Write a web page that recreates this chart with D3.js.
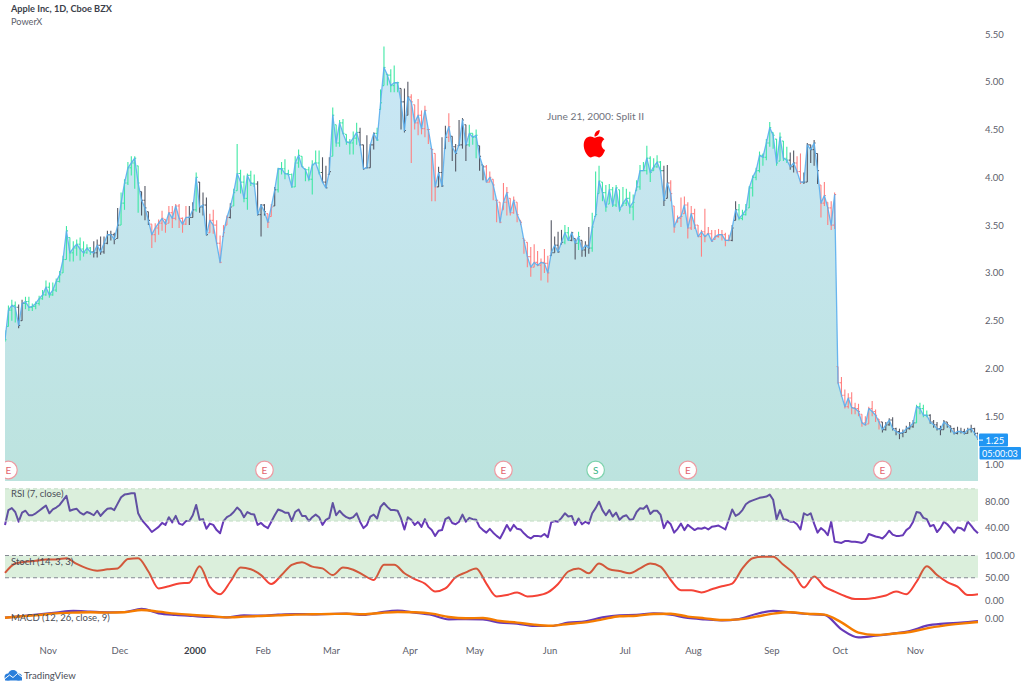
<!DOCTYPE html>
<html>
<head>
<meta charset="utf-8">
<script src="https://d3js.org/d3.v7.min.js"></script>
<style>
  html, body { margin: 0; padding: 0; background: #fff; }
  svg { display: block; }
  text { font-family: Lato, sans-serif; }
  .axis text { fill: #5d606b; font-size: 9.5px; font-family: Lato, sans-serif; }
  .axis path, .axis line { display: none; }
  .paneLabel { fill: #4a4d57; font-size: 9.5px; }
</style>
</head>
<body>
<svg id="chart" width="1024" height="687"></svg>
<script>
// daily bars, Oct 1999 - Nov 2000
var closes = [
  2.30,2.61,2.66,2.64,2.45,2.68,2.70,2.64,2.65,2.68,
  2.73,2.77,2.85,2.77,2.82,2.91,2.98,3.14,3.44,3.21,
  3.26,3.30,3.25,3.21,3.26,3.22,3.21,3.29,3.22,3.31,
  3.40,3.40,3.35,3.50,3.73,3.94,4.10,4.15,4.20,3.94,
  3.76,3.68,3.55,3.40,3.47,3.52,3.57,3.51,3.63,3.57,
  3.70,3.57,3.51,3.58,3.58,3.66,4.00,3.69,3.71,3.40,
  3.55,3.50,3.31,3.11,3.42,3.58,3.69,3.84,4.04,3.95,
  3.78,4.02,3.94,3.93,3.61,3.71,3.64,3.53,3.69,3.87,
  4.09,4.09,4.04,4.03,3.90,4.15,4.23,4.11,4.08,3.98,
  4.13,4.15,4.05,3.95,3.89,4.06,4.65,4.36,4.57,4.46,
  4.37,4.36,4.41,4.47,4.34,4.09,4.10,4.34,4.46,4.39,
  4.78,5.15,5.07,4.96,4.99,4.99,4.79,4.49,4.84,4.79,
  4.57,4.65,4.51,4.70,4.50,4.29,3.90,4.05,3.91,4.42,
  4.53,4.32,4.25,4.34,4.60,4.34,4.46,4.42,4.44,4.22,
  4.11,3.95,4.00,3.92,3.76,3.53,3.74,3.84,3.63,3.76,
  3.61,3.53,3.34,3.17,3.06,3.11,3.08,3.11,3.10,3.00,
  3.21,3.29,3.22,3.32,3.42,3.34,3.42,3.31,3.38,3.24,
  3.29,3.26,3.48,3.61,3.96,3.84,3.69,3.87,3.71,3.89,
  3.66,3.73,3.78,3.69,3.74,3.90,4.07,4.07,4.20,4.05,
  4.11,4.16,4.07,3.76,3.94,3.83,3.48,3.57,3.59,3.71,
  3.47,3.62,3.50,3.38,3.43,3.38,3.41,3.33,3.38,3.40,
  3.40,3.34,3.34,3.47,3.66,3.57,3.61,3.66,3.89,4.00,
  4.07,4.23,4.21,4.36,4.52,4.44,4.15,4.42,4.20,4.18,
  4.11,4.15,4.06,3.95,3.95,4.34,4.29,4.36,4.07,3.73,
  3.81,3.68,3.50,3.82,1.85,1.72,1.60,1.69,1.59,1.58,
  1.55,1.43,1.41,1.58,1.55,1.51,1.44,1.36,1.41,1.46,
  1.37,1.34,1.32,1.33,1.37,1.39,1.43,1.60,1.58,1.51,
  1.51,1.44,1.41,1.37,1.36,1.44,1.41,1.37,1.32,1.34,
  1.34,1.32,1.36,1.37,1.32,1.26
];
var highs = [
  2.40,2.66,2.72,2.70,2.67,2.72,2.75,2.75,2.68,2.70,
  2.76,2.82,2.92,2.90,2.90,2.94,3.02,3.18,3.49,3.37,
  3.33,3.35,3.37,3.33,3.30,3.27,3.33,3.35,3.38,3.38,
  3.44,3.44,3.42,3.68,3.84,3.98,4.16,4.22,4.22,4.12,
  3.85,3.91,3.64,3.51,3.52,3.56,3.65,3.56,3.70,3.70,
  3.72,3.72,3.58,3.70,3.70,3.74,4.05,3.95,3.84,3.79,
  3.62,3.66,3.55,3.39,3.50,3.60,3.73,3.88,4.35,4.08,
  4.02,4.04,4.07,4.03,3.96,3.72,3.72,3.62,3.72,3.90,
  4.10,4.16,4.19,4.08,4.04,4.22,4.29,4.22,4.09,4.11,
  4.18,4.28,4.28,4.21,4.12,4.21,4.73,4.55,4.60,4.61,
  4.45,4.40,4.48,4.57,4.52,4.34,4.44,4.35,4.47,4.52,
  4.92,5.37,5.08,5.13,5.17,5.00,4.93,4.93,5.00,4.87,
  4.76,4.82,4.70,4.75,4.50,4.30,4.25,4.11,4.42,4.54,
  4.67,4.43,4.35,4.60,4.62,4.55,4.55,4.46,4.50,4.33,
  4.13,4.13,4.06,3.98,3.76,3.74,3.94,3.90,3.78,3.80,
  3.74,3.55,3.36,3.32,3.27,3.30,3.23,3.15,3.25,3.18,
  3.55,3.38,3.43,3.45,3.50,3.48,3.43,3.36,3.43,3.34,
  3.33,3.48,3.63,4.06,4.12,3.95,3.92,3.93,3.90,3.92,
  3.87,3.90,3.88,3.85,3.82,3.97,4.13,4.16,4.33,4.22,
  4.20,4.23,4.17,4.12,4.13,3.97,3.70,3.60,3.79,3.80,
  3.74,3.70,3.67,3.50,3.45,3.67,3.48,3.45,3.45,3.46,
  3.45,3.42,3.40,3.50,3.75,3.72,3.66,3.72,3.91,4.02,
  4.10,4.27,4.25,4.40,4.58,4.47,4.40,4.47,4.38,4.32,
  4.26,4.28,4.22,4.25,4.05,4.36,4.34,4.39,4.25,3.92,
  3.95,3.74,3.75,3.84,2.02,1.91,1.78,1.74,1.75,1.64,
  1.63,1.52,1.50,1.60,1.66,1.57,1.47,1.44,1.44,1.48,
  1.49,1.38,1.37,1.36,1.40,1.44,1.46,1.62,1.64,1.62,
  1.56,1.52,1.46,1.44,1.40,1.46,1.44,1.40,1.38,1.39,
  1.38,1.37,1.38,1.41,1.38,1.33
];
var lows = [
  2.28,2.44,2.50,2.48,2.42,2.50,2.62,2.60,2.60,2.62,
  2.66,2.72,2.76,2.74,2.76,2.80,2.90,3.00,3.14,3.12,
  3.12,3.18,3.13,3.17,3.20,3.19,3.16,3.16,3.19,3.20,
  3.30,3.34,3.30,3.36,3.50,3.66,3.92,4.02,3.88,3.63,
  3.60,3.55,3.50,3.26,3.32,3.40,3.44,3.42,3.52,3.47,
  3.55,3.47,3.42,3.50,3.50,3.58,3.64,3.63,3.60,3.39,
  3.42,3.41,3.30,3.10,3.38,3.50,3.57,3.70,3.86,3.83,
  3.74,3.66,3.91,3.90,3.60,3.38,3.60,3.47,3.59,3.70,
  3.84,4.03,3.98,4.02,3.89,3.90,4.10,4.11,3.96,3.96,
  3.82,4.15,4.03,3.95,3.89,4.03,4.22,4.32,4.32,4.45,
  4.34,4.24,4.24,4.34,4.33,4.08,4.10,4.10,4.29,4.38,
  4.71,4.96,4.96,4.89,4.89,4.89,4.50,4.47,4.65,4.15,
  4.50,4.44,4.45,4.42,4.35,3.75,3.75,3.90,3.90,4.30,
  4.37,4.17,4.06,4.33,4.30,4.17,4.32,4.34,4.20,4.07,
  3.97,3.95,3.95,3.76,3.53,3.52,3.66,3.60,3.60,3.62,
  3.53,3.50,3.20,3.06,2.96,3.06,3.07,2.92,3.00,2.90,
  3.18,3.21,3.21,3.30,3.30,3.34,3.33,3.14,3.24,3.17,
  3.17,3.20,3.22,3.59,3.83,3.75,3.64,3.72,3.69,3.69,
  3.64,3.70,3.70,3.62,3.55,3.86,3.87,4.07,4.03,3.95,
  4.07,4.10,4.05,3.70,3.78,3.75,3.42,3.53,3.48,3.62,
  3.36,3.45,3.46,3.38,3.17,3.32,3.41,3.33,3.35,3.37,
  3.34,3.28,3.33,3.33,3.55,3.55,3.55,3.60,3.68,3.80,
  3.97,4.05,4.12,4.18,4.32,4.30,4.12,4.17,4.17,4.15,
  4.08,4.05,4.04,3.93,3.93,3.95,4.15,4.12,3.93,3.58,
  3.70,3.50,3.45,3.46,1.84,1.70,1.58,1.58,1.52,1.52,
  1.50,1.39,1.40,1.42,1.50,1.44,1.36,1.33,1.35,1.40,
  1.35,1.30,1.26,1.28,1.33,1.36,1.38,1.43,1.52,1.49,
  1.49,1.42,1.38,1.35,1.30,1.36,1.38,1.33,1.31,1.31,
  1.32,1.31,1.32,1.33,1.30,1.25
];
// PowerX bar state, run lengths: g up, r down, k mixed
var barRunLengths = [4,2,20,8,6,3,11,2,1,3,6,1,7,3,2,1,13,3,8,5,7,3,7,1,3,1,5,3,2,19,4,2,2,1,3,21,2,18,2,15,2,2,5,18,10,4,15];
var barRunStates = ["g","k","g","k","g","k","r","k","g","k","r","k","g","k","r","k","g","k","g","k","g","k","r","r","k","r","k","g","k","r","k","g","k","g","k","g","k","r","k","g","k","r","k","r","k","g","k"];

var rsiValues = [
  44,67,70,64,49,63,66,59,59,62,66,70,74,62,68,71,75,82,89,66,
  68,69,63,60,64,62,59,66,58,64,69,70,67,77,87,91,92,93,93,62,
  52,46,40,33,37,41,47,44,56,48,58,46,44,50,50,59,75,52,53,38,
  46,44,36,31,50,56,59,64,71,66,56,64,61,60,44,47,42,39,49,59,
  68,66,63,63,50,64,68,58,58,50,56,60,56,44,52,55,78,59,66,60,
  56,54,56,62,49,39,44,57,60,54,72,78,72,67,67,66,54,37,56,52,
  44,49,41,53,41,36,27,35,36,53,56,47,45,49,60,49,55,53,52,41,
  36,32,38,32,27,23,33,44,35,44,38,37,31,26,23,27,27,26,30,25,
  48,50,49,55,62,57,58,44,54,45,49,46,62,70,80,67,59,67,57,63,
  52,57,59,52,53,64,70,69,74,61,66,66,60,39,50,45,32,38,46,36,
  44,40,36,39,38,40,37,41,42,43,40,37,52,68,58,61,67,76,80,82,
  84,86,87,88,91,83,53,67,53,52,49,49,45,37,62,59,62,46,32,39,
  35,28,49,18,17,16,19,19,18,18,17,16,19,30,28,26,25,23,28,35,
  29,27,27,28,36,40,49,64,63,55,53,42,44,33,39,49,45,39,32,40,
  39,35,49,43,36,31
];
// stochastic read every third bar, MACD every fifth, both are smooth
var stochStep = 3;
var stochValues = [
  61,82,86,88,91,91,94,81,71,66,69,71,92,94,64,26,31,37,39,76,
  30,13,41,73,69,56,36,56,79,85,75,71,56,73,68,56,45,79,79,60,
  47,37,19,26,51,62,71,37,8,11,17,8,10,17,36,64,71,60,82,69,
  65,60,71,82,75,45,22,22,17,24,31,37,71,94,97,97,79,60,28,53,
  30,19,9,2,2,5,10,19,13,41,76,56,40,30,11,13
];
var macdStep = 5;
var macdValues = [
  0.004,0.025,0.046,0.067,0.088,0.079,0.071,0.075,0.113,0.058,
  0.038,0.025,0.013,0.008,0.033,0.029,0.042,0.050,0.046,0.050,
  0.054,0.038,0.071,0.092,0.067,0.038,-0.017,-0.013,-0.017,-0.058,
  -0.071,-0.100,-0.100,-0.058,-0.042,0.008,0.033,0.038,0.058,0.042,
  0.000,-0.017,-0.029,-0.013,0.050,0.088,0.071,0.050,0.038,-0.142,
  -0.242,-0.221,-0.196,-0.163,-0.096,-0.071,-0.058,-0.038
];
var signalValues = [
  0.004,0.021,0.038,0.058,0.067,0.071,0.067,0.071,0.100,0.079,
  0.054,0.038,0.025,0.008,0.017,0.025,0.033,0.042,0.046,0.050,
  0.054,0.046,0.063,0.075,0.071,0.054,0.013,-0.004,0.000,-0.038,
  -0.058,-0.083,-0.096,-0.075,-0.054,-0.017,0.021,0.029,0.050,0.054,
  0.017,-0.004,-0.025,-0.017,0.017,0.054,0.071,0.054,0.042,-0.054,
  -0.183,-0.213,-0.196,-0.175,-0.129,-0.096,-0.071,-0.050
];

var priceTicks = [1,1.5,2,2.5,3,3.5,4,4.5,5,5.5];
var monthBars = [12.5,33.5,55.5,75.5,95.5,118.5,137.5,159.5,181.5,201.5,224.5,244.5,266.5];
var monthLabels = ["Nov","Dec","2000","Feb","Mar","Apr","May","Jun","Jul","Aug","Sep","Oct","Nov"];
var eventBars = [1,76,146,173,200,257];
var eventLabels = ["E","E","E","S","E","E"];

var colorOf = {g: "#3fe8a4", r: "#ff8080", k: "#555965"};

var svg = d3.select("#chart");
var left = 5, right = 978;

var x = d3.scaleLinear().domain([0, closes.length - 1]).range([left, right]);
var y = d3.scaleLinear().domain([1, 5.5]).range([464, 34]);
var yRsi = d3.scaleLinear().domain([40, 80]).range([527.5, 501.7]);
var yStoch = d3.scaleLinear().domain([0, 100]).range([600, 555.5]);
var yMacd = d3.scaleLinear().domain([-0.25, 0]).range([638, 618]);

var defs = svg.append("defs");
var grad = defs.append("linearGradient").attr("id", "areaFill")
  .attr("gradientUnits", "userSpaceOnUse")
  .attr("x1", 0).attr("x2", 0).attr("y1", 46).attr("y2", 481);
grad.append("stop").attr("offset", 0).attr("stop-color", "#cae7f7");
grad.append("stop").attr("offset", 1).attr("stop-color", "#bce3de");
defs.append("clipPath").attr("id", "paneClip").append("rect")
  .attr("x", left).attr("y", 0).attr("width", right - left).attr("height", 481);

var main = svg.append("g").attr("clip-path", "url(#paneClip)");

var area = d3.area().x(function(d, i) { return x(i); }).y0(481).y1(function(d) { return y(d); });
main.append("path").datum(closes).attr("d", area).attr("fill", "url(#areaFill)");

// bar colours from the runs
var barStates = [];
barRunLengths.forEach(function(n, r) {
  for (var k = 0; k < n; k++) barStates.push(barRunStates[r]);
});

var bars = main.selectAll("g.bar").data(closes).enter().append("g").attr("class", "bar")
  .attr("stroke", function(d, i) { return colorOf[barStates[i]]; })
  .attr("stroke-width", 1.1);
bars.append("line")
  .attr("x1", function(d, i) { return x(i); }).attr("x2", function(d, i) { return x(i); })
  .attr("y1", function(d, i) { return y(highs[i]); }).attr("y2", function(d, i) { return y(lows[i]); });
bars.append("line")
  .attr("x1", function(d, i) { return x(i); }).attr("x2", function(d, i) { return x(i) + 1.5; })
  .attr("y1", function(d) { return y(d); }).attr("y2", function(d) { return y(d); });
bars.append("line") // open tick sits at the previous close, kept inside the bar
  .attr("x1", function(d, i) { return x(i) - 1.5; }).attr("x2", function(d, i) { return x(i); })
  .attr("y1", function(d, i) { return y(Math.max(lows[i], Math.min(highs[i], closes[Math.max(i - 1, 0)]))); })
  .attr("y2", function(d, i) { return y(Math.max(lows[i], Math.min(highs[i], closes[Math.max(i - 1, 0)]))); });

var priceLine = d3.line().x(function(d, i) { return x(i); }).y(function(d) { return y(d); });
main.append("path").datum(closes).attr("d", priceLine)
  .attr("fill", "none").attr("stroke", "#5aaeee").attr("stroke-width", 1.3).attr("stroke-opacity", 0.9).attr("stroke-linejoin", "round");

// earnings / split badges
var badges = main.selectAll("g.badge").data(eventBars).enter().append("g").attr("class", "badge")
  .attr("transform", function(d) { return "translate(" + x(d) + ",470)"; });
badges.append("circle").attr("r", 8.8).attr("fill", "#fff")
  .attr("stroke", function(d, i) { return eventLabels[i] == "S" ? "#7fd3ae" : "#ef9aa2"; }).attr("stroke-width", 1.2);
badges.append("text").attr("text-anchor", "middle").attr("y", 3.5).attr("font-size", 10)
  .attr("fill", function(d, i) { return eventLabels[i] == "S" ? "#3bb586" : "#e2636e"; })
  .text(function(d, i) { return eventLabels[i]; });

// split note
svg.append("text").attr("x", 595.5).attr("y", 120).attr("text-anchor", "middle")
  .attr("font-size", 10.2).attr("fill", "#6f727c").text("June 21, 2000: Split II");
svg.append("path")
  .attr("d", "M17.05 20.28c-.98.95-2.05.8-3.08.35-1.09-.46-2.09-.48-3.24 0-1.44.62-2.2.44-3.06-.35C2.79 15.25 3.51 7.59 9.05 7.31c1.35.07 2.29.74 3.08.8 1.18-.24 2.31-.93 3.57-.84 1.51.12 2.65.72 3.4 1.8-3.12 1.87-2.38 5.98.48 7.13-.57 1.5-1.31 2.99-2.54 4.09zM12.03 7.25c-.15-2.23 1.66-4.07 3.74-4.25.29 2.58-2.34 4.5-3.74 4.25z")
  .attr("transform", "translate(594,143.5) scale(1.4,1.53) translate(-11.7,-11.9)")
  .attr("fill", "#ff0000");

// indicator panes
function band(top, bottom, dash) {
  svg.append("rect").attr("x", left).attr("y", top).attr("width", right - left).attr("height", bottom - top)
    .attr("fill", "#4caf50").attr("opacity", 0.2);
  [top, bottom].forEach(function(b) {
    svg.append("line").attr("x1", left).attr("x2", right).attr("y1", b).attr("y2", b)
      .attr("stroke", dash).attr("stroke-dasharray", "4,3");
  });
}

var rsiLine = d3.line().x(function(d, i) { return x(i); }).y(function(d) { return yRsi(d); });
svg.append("path").datum(rsiValues).attr("d", rsiLine)
  .attr("fill", "none").attr("stroke", "#673ab7").attr("stroke-width", 2).attr("stroke-linejoin", "round");
band(yRsi(100), yRsi(50), "#c3dcc5");

var stochLine = d3.line().curve(d3.curveMonotoneX)
  .x(function(d, i) { return x(i * stochStep); }).y(function(d) { return yStoch(d); });
svg.append("path").datum(stochValues).attr("d", stochLine)
  .attr("fill", "none").attr("stroke", "#f44336").attr("stroke-width", 2);
band(yStoch(100), yStoch(50), "#858892");

var macdLine = d3.line().curve(d3.curveMonotoneX)
  .x(function(d, i) { return x(i * macdStep); }).y(function(d) { return yMacd(d); });
svg.append("path").datum(macdValues).attr("d", macdLine)
  .attr("fill", "none").attr("stroke", "#673ab7").attr("stroke-width", 2.2);
svg.append("path").datum(signalValues).attr("d", macdLine)
  .attr("fill", "none").attr("stroke", "#f57c00").attr("stroke-width", 2.4);

// legends
svg.append("text").attr("x", 11).attr("y", 11.5).attr("font-size", 9.2).attr("font-weight", 700)
  .attr("fill", "#3c3f4a").text("Apple Inc, 1D, Cboe BZX");
svg.append("text").attr("x", 11).attr("y", 24.5).attr("font-size", 9.2).attr("fill", "#5d606b").text("PowerX");
[["RSI (7, close)", 496.5], ["Stoch (14, 3, 3)", 564.5], ["MACD (12, 26, close, 9)", 620.5]].forEach(function(l) {
  svg.append("text").attr("class", "paneLabel").attr("x", 11).attr("y", l[1]).text(l[0]);
});

// axes
function rightAxis(scale, vals, fmt) {
  svg.append("g").attr("class", "axis").attr("transform", "translate(984,0)")
    .call(d3.axisRight(scale).tickValues(vals).tickSize(0).tickPadding(1).tickFormat(d3.format(fmt)));
}
rightAxis(y, priceTicks, ".2f");
rightAxis(yRsi, [40, 80], ".2f");
rightAxis(yStoch, [0, 50, 100], ".2f");
rightAxis(yMacd, [0], ".2f");

var xAxis = svg.append("g").attr("class", "axis").attr("transform", "translate(0,647)")
  .call(d3.axisBottom(x).tickValues(monthBars).tickSize(0).tickPadding(0)
    .tickFormat(function(d, i) { return monthLabels[i]; }));
xAxis.selectAll("text").filter(function(d, i) { return monthLabels[i] == "2000"; })
  .attr("font-weight", 700).style("fill", "#3c3f4a");

// last price and countdown tags
var lastPrice = 1.25;
svg.append("rect").attr("x", 979).attr("y", y(lastPrice) - 6.5).attr("width", 29).attr("height", 13).attr("rx", 1).attr("fill", "#2196f3");
svg.append("line").attr("x1", 979).attr("x2", 983).attr("y1", y(lastPrice)).attr("y2", y(lastPrice)).attr("stroke", "#fff");
svg.append("text").attr("x", 985.5).attr("y", y(lastPrice) + 3.5).attr("font-size", 9.5).attr("fill", "#fff").text(d3.format(".2f")(lastPrice));
svg.append("rect").attr("x", 979.5).attr("y", 447).attr("width", 41.5).attr("height", 12.5).attr("rx", 1).attr("fill", "#2196f3");
svg.append("text").attr("x", 982).attr("y", 456.5).attr("font-size", 9).attr("fill", "#fff").text("05:00:03");

// TradingView mark
var logo = svg.append("g").attr("fill", "#2b7fdb");
logo.append("circle").attr("cx", 13).attr("cy", 675).attr("r", 5);
logo.append("circle").attr("cx", 8).attr("cy", 677).attr("r", 3.5);
logo.append("circle").attr("cx", 18.5).attr("cy", 677).attr("r", 3.5);
logo.append("rect").attr("x", 5).attr("y", 677).attr("width", 17).attr("height", 3.5);
logo.append("path").attr("d", "M4.5 679 L9.5 675 L13 677.5 L17.5 673.5 L22 677")
  .attr("fill", "none").attr("stroke", "#fff").attr("stroke-width", 1);
svg.append("text").attr("x", 24).attr("y", 679).attr("font-size", 9.6).attr("fill", "#4a4d57").text("TradingView");
</script>
</body>
</html>
